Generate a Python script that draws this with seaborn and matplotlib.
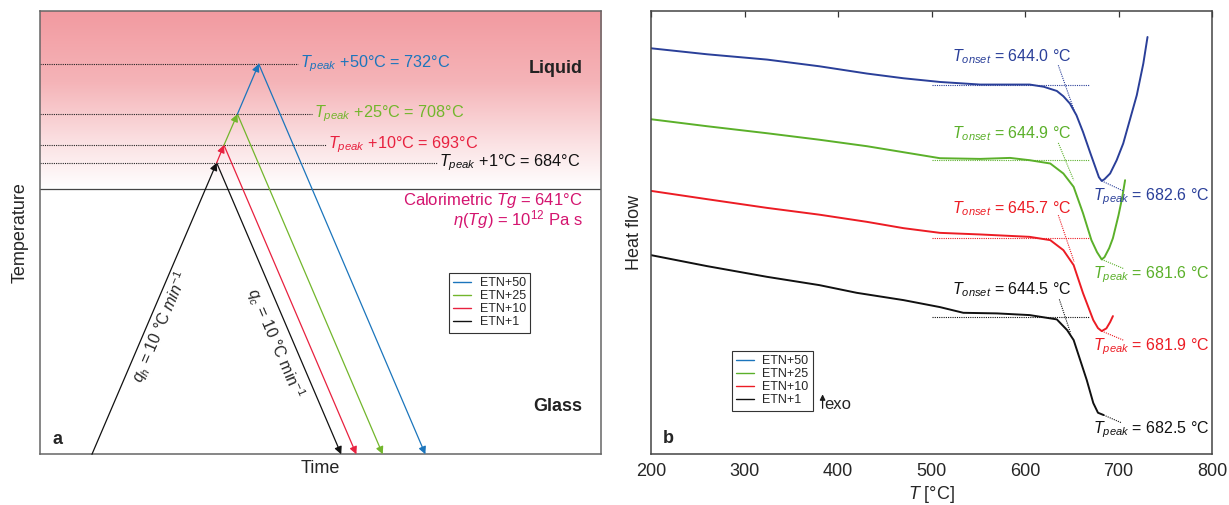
import matplotlib
matplotlib.use("Agg")
import matplotlib.pyplot as plt
import seaborn as sns
import numpy as np
import pandas as pd
from matplotlib.colors import LinearSegmentedColormap
from matplotlib.lines import Line2D

# ---- panel a: schematic thermal history (arbitrary units, 0-100) ----
samples = ["ETN+1", "ETN+10", "ETN+25", "ETN+50"]
colors_a = ["#111111", "#e8213f", "#72b62c", "#1b75bc"]
level_y = [65.8, 69.8, 76.8, 88.1]          # peak temperature levels
peak_t = [31.5, 32.8, 35.2, 39.0]          # time where heating stops
end_t = [53.7, 56.4, 61.1, 68.7]           # time where cooling reaches bottom
start_t = 9.27
tg_y = 59.9
dot_end = [70.8, 51.0, 48.5, 46.0]
level_labels = ["$T_{peak}$ +1°C = 684°C", "$T_{peak}$ +10°C = 693°C",
                "$T_{peak}$ +25°C = 708°C", "$T_{peak}$ +50°C = 732°C"]

# ---- panel b: DSC curves (heat flow, arbitrary units) ----
blue_T = [200, 260, 324, 380, 431, 470, 509, 552, 605, 620, 634, 641, 648, 655, 662,
          670, 677, 679, 682, 685, 691, 698, 705, 712, 719.5, 726.5, 731]
blue_hf = [40.63, 40.03, 39.5, 38.83, 38.1, 37.63, 37.26, 37.0, 37.0, 36.78, 36.36, 35.83,
           35.1, 33.93, 32.26, 30.1, 28.26, 27.73, 27.36, 27.53, 28.1, 29.43, 31.1, 33.43,
           35.93, 39.1, 41.76]
green_T = [200, 260, 324, 380, 431, 470, 509, 552, 584, 605, 627, 641, 652, 662, 671,
           677, 682, 685, 690, 694, 700, 704, 707]
green_hf = [33.53, 32.83, 32.13, 31.48, 30.83, 30.23, 29.63, 29.56, 29.66, 29.43, 29.1,
            28.1, 26.76, 24.13, 21.43, 20.23, 19.5, 19.73, 20.63, 21.63, 23.93, 25.73, 27.43]
red_T = [200, 260, 324, 380, 431, 470, 509, 552, 605, 627, 641, 652, 662, 673, 678,
         682, 687, 691, 694]
red_hf = [26.36, 25.53, 24.66, 23.98, 23.26, 22.63, 22.16, 22.0, 21.76, 21.43, 20.43,
          18.93, 16.13, 13.43, 12.63, 12.33, 12.6, 13.23, 13.83]
black_T = [200, 260, 324, 380, 420, 470, 509, 534, 570, 605, 634, 645, 652, 659, 666,
           673, 678, 684]
black_hf = [19.93, 18.83, 17.76, 16.93, 16.16, 15.43, 14.73, 14.16, 14.1, 13.93, 13.5,
            12.43, 11.43, 9.43, 7.43, 5.13, 4.16, 3.93]

colors_b = {"ETN+50": "#2a3f99", "ETN+25": "#5bb02a", "ETN+10": "#ec1c24", "ETN+1": "#111111"}
order_b = ["ETN+50", "ETN+25", "ETN+10", "ETN+1"]

# tangent constructions: baseline level, steep tangent ends, peak line ends
base_hf = [37.0, 29.43, 21.66, 13.76]
steep_T0 = [635.6, 635.6, 635.6, 636.7]
steep_hf0 = [38.93, 31.16, 23.93, 15.5]
steep_T1 = [652.5, 652.0, 652.5, 648.8]
steep_hf1 = [34.43, 27.43, 19.26, 12.1]
peak_T = [682, 682, 682, 684]
peak_hf = [27.36, 19.5, 12.33, 3.93]
peak_T1 = [705, 705, 705, 703]
peak_hf1 = [26.36, 18.6, 11.43, 3.16]
onset_labels = ["$T_{onset}$ = 644.0 °C", "$T_{onset}$ = 644.9 °C",
                "$T_{onset}$ = 645.7 °C", "$T_{onset}$ = 644.5 °C"]
peak_labels = ["$T_{peak}$ = 682.6 °C", "$T_{peak}$ = 681.6 °C",
               "$T_{peak}$ = 681.9 °C", "$T_{peak}$ = 682.5 °C"]
onset_lab_y = [39.76, 32.1, 24.6, 16.43]
peak_lab_y = [25.76, 17.93, 10.76, 2.43]

sns.set_theme(style="white")
plt.rcParams["font.family"] = ["Liberation Sans", "DejaVu Sans"]
plt.rcParams["mathtext.fontset"] = "custom"
plt.rcParams["mathtext.rm"] = "Liberation Sans"
plt.rcParams["mathtext.it"] = "Liberation Sans:italic"
plt.rcParams["mathtext.bf"] = "Liberation Sans:bold"

fig = plt.figure(figsize=(12.29, 5.05), dpi=100)
ax_a = fig.add_axes([0.0325, 0.1004, 0.4565, 0.8772])
ax_b = fig.add_axes([0.5297, 0.1004, 0.4565, 0.8772])

# ================= panel a =================
ax = ax_a
ax.set_xlim(0, 100)
ax.set_ylim(0, 100)
pink = LinearSegmentedColormap.from_list(
    "pk", [(0, "#ffffff"), (0.25, "#fbe2e4"), (0.6, "#f5b4b8"), (1, "#f29aa0")])
grad = np.linspace(0, 1, 256).reshape(-1, 1)
ax.imshow(grad, extent=[0, 100, tg_y, 100], origin="lower", aspect="auto",
          cmap=pink, zorder=0)
ax.axhline(tg_y, color="#444444", lw=0.9, zorder=1)

for i in range(4):
    ax.plot([0, dot_end[i]], [level_y[i], level_y[i]], color="#222222", lw=0.8,
            ls=(0, (1, 1)), zorder=2)
    ax.text(dot_end[i] + 0.4, level_y[i], level_labels[i], color=colors_a[i],
            fontsize=11.7, va="center", ha="left")

arrow_kw = dict(arrowstyle="-|>", lw=0.9, mutation_scale=11, shrinkA=0, shrinkB=0)
prev = (start_t, 0)
for i in range(4):
    ax.annotate("", xy=(peak_t[i], level_y[i]), xytext=prev,
                arrowprops=dict(color=colors_a[i], **arrow_kw), annotation_clip=False)
    prev = (peak_t[i], level_y[i])
    ax.annotate("", xy=(end_t[i], 0), xytext=(peak_t[i], level_y[i]),
                arrowprops=dict(color=colors_a[i], **arrow_kw), annotation_clip=False)

ax.text(21.4, 28.8, "$q_h$ = 10 °C $min^{-1}$", rotation=66.9, fontsize=11.5,
        ha="center", va="center", rotation_mode="anchor")
ax.text(42.0, 25.1, "$q_c$ = 10 °C min$^{-1}$", rotation=-66.9, fontsize=11.5,
        ha="center", va="center", rotation_mode="anchor")

ax.text(96.7, 87.2, "Liquid", fontsize=13, fontweight="bold", ha="right", va="center",
        color="#222222")
ax.text(96.7, 10.7, "Glass", fontsize=13, fontweight="bold", ha="right", va="center",
        color="#222222")
ax.text(96.7, 57.4, "Calorimetric $Tg$ = 641°C", fontsize=12, ha="right", va="center",
        color="#d4146f")
ax.text(96.7, 52.9, r"$\eta(Tg)$ = 10$^{12}$ Pa s", fontsize=12, ha="right",
        va="center", color="#d4146f")
ax.text(3.2, 3.4, "a", fontsize=13, fontweight="bold", ha="center", va="center")

ax.set_xticks([])
ax.set_yticks([])
ax.set_xlabel("Time", fontsize=13, labelpad=4)
ax.set_ylabel("Temperature", fontsize=13, labelpad=8)
for s in ax.spines.values():
    s.set_color("#666666")
    s.set_linewidth(1.1)

handles_a = [Line2D([], [], color=colors_a[i], lw=1) for i in [3, 2, 1, 0]]
leg = ax.legend(handles_a, [samples[i] for i in [3, 2, 1, 0]], loc="upper left",
                bbox_to_anchor=(0.729, 0.409), borderaxespad=0, fontsize=9,
                frameon=True, fancybox=False, framealpha=1, edgecolor="#333333",
                borderpad=0.35, labelspacing=0.08, handlelength=1.4, handletextpad=0.7)
leg.get_frame().set_linewidth(0.8)

# ================= panel b =================
ax = ax_b
curves = {"ETN+50": (blue_T, blue_hf), "ETN+25": (green_T, green_hf),
          "ETN+10": (red_T, red_hf), "ETN+1": (black_T, black_hf)}
df = pd.concat([pd.DataFrame({"T": t, "hf": h, "sample": k}) for k, (t, h) in curves.items()])
sns.lineplot(data=df, x="T", y="hf", hue="sample", palette=colors_b, estimator=None,
             sort=False, legend=False, lw=1.4, ax=ax)

for i, k in enumerate(order_b):
    c = colors_b[k]
    dot = dict(color=c, lw=0.8, ls=(0, (1, 1)))
    ax.plot([500, 668], [base_hf[i], base_hf[i]], **dot)
    ax.plot([steep_T0[i], steep_T1[i]], [steep_hf0[i], steep_hf1[i]], **dot)
    ax.plot([peak_T[i], peak_T1[i]], [peak_hf[i], peak_hf1[i]], **dot)
    ax.text(650.3, onset_lab_y[i], onset_labels[i], color=c, fontsize=11.5,
            ha="right", va="center")
    ax.text(672.7, peak_lab_y[i], peak_labels[i], color=c, fontsize=11.5,
            ha="left", va="center")

ax.annotate("", xy=(383.5, 6.0), xytext=(383.5, 4.6),
            arrowprops=dict(arrowstyle="-|>", lw=0.9, color="k", mutation_scale=8,
                            shrinkA=0, shrinkB=0))
ax.text(385.5, 5.0, "exo", fontsize=12, ha="left", va="center")
ax.text(218, 1.6, "b", fontsize=13, fontweight="bold", ha="center", va="center")

ax.set_xlim(200, 800)
ax.set_ylim(0, 44.33)
ax.set_xticks(range(200, 801, 100))
ax.set_yticks([])
ax.tick_params(axis="x", direction="in", top=True, length=4, width=0.9,
               labelsize=13, pad=6, color="#333333")
ax.set_xlabel("$T$ [°C]", fontsize=13, labelpad=3)
ax.set_ylabel("Heat flow", fontsize=13, labelpad=6)
for s in ax.spines.values():
    s.set_color("#444444")
    s.set_linewidth(1.1)

handles_b = [Line2D([], [], color=c, lw=1) for c in ["#1b75bc", "#5bb02a", "#ec1c24", "#111111"]]
leg = ax.legend(handles_b, order_b, loc="upper left", bbox_to_anchor=(0.144, 0.233),
                borderaxespad=0, fontsize=9, frameon=True, fancybox=False, framealpha=1,
                edgecolor="#333333", borderpad=0.35, labelspacing=0.08,
                handlelength=1.4, handletextpad=0.7)
leg.get_frame().set_linewidth(0.8)

fig.savefig("out.png", dpi=100)
